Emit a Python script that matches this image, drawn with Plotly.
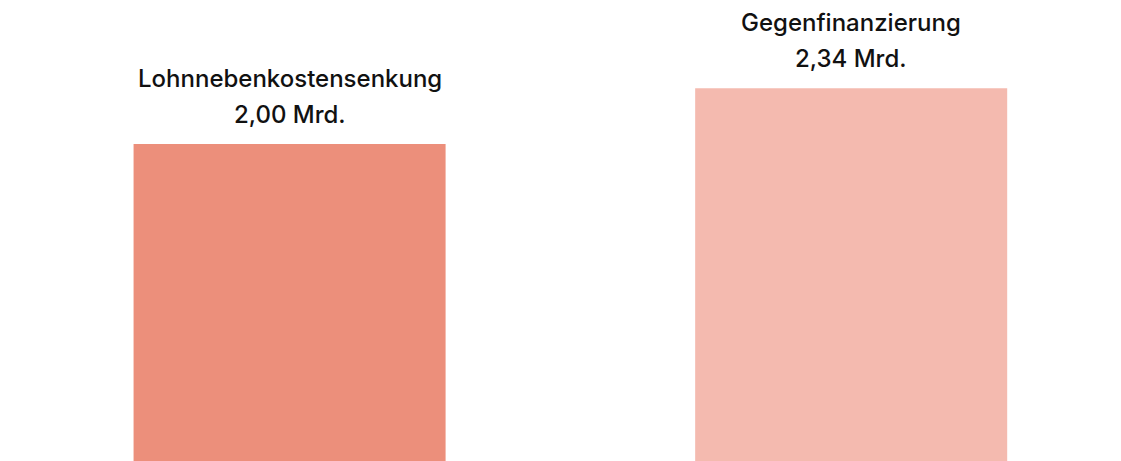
import plotly.graph_objects as go

categories = ["Lohnnebenkostensenkung", "Gegenfinanzierung"]
values = [2.00, 2.34]
value_labels = ["2,00 Mrd.", "2,34 Mrd."]
colors = ["#EC8F7B", "#F4BAAF"]

FONT = "Inter"

fig = go.Figure()
fig.add_trace(go.Bar(
    x=list(range(len(categories))),
    y=values,
    width=0.5556,
    marker=dict(color=colors, line=dict(width=0)),
    hoverinfo="skip",
))

for i, (cat, val, lab) in enumerate(zip(categories, values, value_labels)):
    fig.add_annotation(x=i, y=val, xref="x", yref="y", text=lab,
                       showarrow=False, yanchor="bottom", yshift=13,
                       font=dict(family=FONT, size=24, color="#111111", weight=500))
    fig.add_annotation(x=i, y=val, xref="x", yref="y", text=cat,
                       showarrow=False, yanchor="bottom", yshift=49,
                       font=dict(family=FONT, size=24, color="#111111", weight=500))

fig.update_layout(
    width=1121, height=461,
    margin=dict(l=0, r=0, t=0, b=0),
    paper_bgcolor="white", plot_bgcolor="white",
    showlegend=False,
    xaxis=dict(range=[-0.5014, 1.4947], visible=False, fixedrange=True),
    yaxis=dict(range=[0.0159, 2.830], visible=False, fixedrange=True),
)

fig.write_html("out.html", config={"displayModeBar": False})
